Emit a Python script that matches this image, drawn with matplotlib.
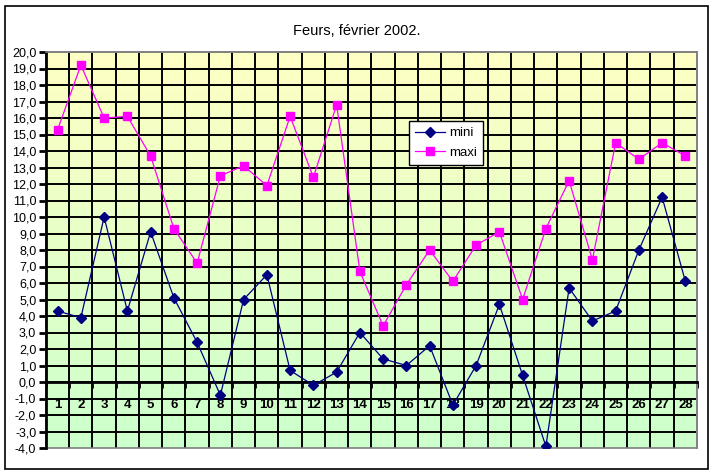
import numpy as np
import matplotlib
matplotlib.use("Agg")
import matplotlib.pyplot as plt
from matplotlib.patches import Rectangle
from matplotlib.ticker import FuncFormatter

plt.rcParams['font.family'] = ['Liberation Sans', 'DejaVu Sans']

# Données : températures à Feurs, février 2002
jours = list(range(1, 29))
mini = [4.3, 3.9, 10.0, 4.3, 9.1, 5.1, 2.4, -0.8, 5.0, 6.5,
        0.7, -0.2, 0.6, 3.0, 1.4, 1.0, 2.2, -1.4, 1.0, 4.7,
        0.4, -3.9, 5.7, 3.7, 4.3, 8.0, 11.2, 6.1]
maxi = [15.3, 19.2, 16.0, 16.1, 13.7, 9.3, 7.2, 12.5, 13.1, 11.9,
        16.1, 12.4, 16.8, 6.7, 3.4, 5.9, 8.0, 6.1, 8.3, 9.1,
        5.0, 9.3, 12.2, 7.4, 14.5, 13.5, 14.5, 13.7]
titre = "Feurs, février 2002."

fig = plt.figure(figsize=(7.15, 4.75), dpi=100)
ax = fig.add_axes([46/715, 27/475, 651/715, 396/475])

# fond dégradé jaune -> vert
haut = np.array([255, 255, 196]) / 255
bas = np.array([204, 255, 204]) / 255
t = np.linspace(0, 1, 256)[:, None]
grad = (haut * (1 - t) + bas * t).reshape(256, 1, 3)
ax.imshow(grad, extent=[0, 1, 0, 1], transform=ax.transAxes,
          aspect='auto', zorder=0)

ax.set_xlim(0.5, 28.5)
ax.set_ylim(-4, 20)

# quadrillage
for y in range(-3, 20):
    ax.axhline(y, color='black', lw=1.4, zorder=1)
for x in np.arange(1.5, 28, 1):
    ax.axvline(x, color='black', lw=1.4, zorder=1)

# courbes
ax.plot(jours, mini, color='#000080', lw=0.9, marker='D', ms=4.8,
        label='mini', zorder=4)
ax.plot(jours, maxi, color='#FF00FF', lw=0.9, marker='s', ms=5.8,
        label='maxi', zorder=4)

# axes
for s in ['top', 'right']:
    ax.spines[s].set_color('#808080')
    ax.spines[s].set_linewidth(1.2)
ax.spines['left'].set_color('black')
ax.spines['left'].set_linewidth(2)
ax.spines['bottom'].set_position(('data', 0))
ax.spines['bottom'].set_color('black')
ax.spines['bottom'].set_linewidth(2)
ax.spines['bottom'].set_zorder(3)
ax.add_patch(Rectangle((0, 0), 1, 1, transform=ax.transAxes, fill=False,
                       edgecolor='#808080', lw=1.2, zorder=2, clip_on=False))

ax.set_yticks(range(-4, 21))
ax.yaxis.set_major_formatter(FuncFormatter(lambda v, p: f"{v:.1f}".replace('.', ',')))
ax.tick_params(axis='y', direction='out', length=5, width=2, pad=2,
               labelsize=9)

ax.set_xticks(np.arange(0.5, 28.6, 1))
ax.set_xticklabels([])
ax.set_xticks(jours, minor=True)
ax.set_xticklabels([str(j) for j in jours], minor=True, fontweight='bold')
ax.tick_params(axis='x', which='major', direction='out', length=4, width=2)
ax.tick_params(axis='x', which='minor', length=0, pad=12, labelsize=9.5)

leg = ax.legend(loc='upper left', bbox_to_anchor=(409/715, 1 - 121/475),
                bbox_transform=fig.transFigure, frameon=True, fancybox=False,
                edgecolor='black', framealpha=1, fontsize=9.5,
                handlelength=2.3, borderpad=0.45, labelspacing=0.55,
                handletextpad=0.3, borderaxespad=0)
leg.get_frame().set_linewidth(1)

fig.text(357/715, 1 - 31/475, titre, ha='center', va='center', fontsize=10.5)

# cadre extérieur
fig.patches.append(Rectangle((5/715, 6/475), 703/715, 463/475,
                             transform=fig.transFigure, fill=False,
                             edgecolor='black', lw=1.2))

fig.savefig('out.png', dpi=100)
